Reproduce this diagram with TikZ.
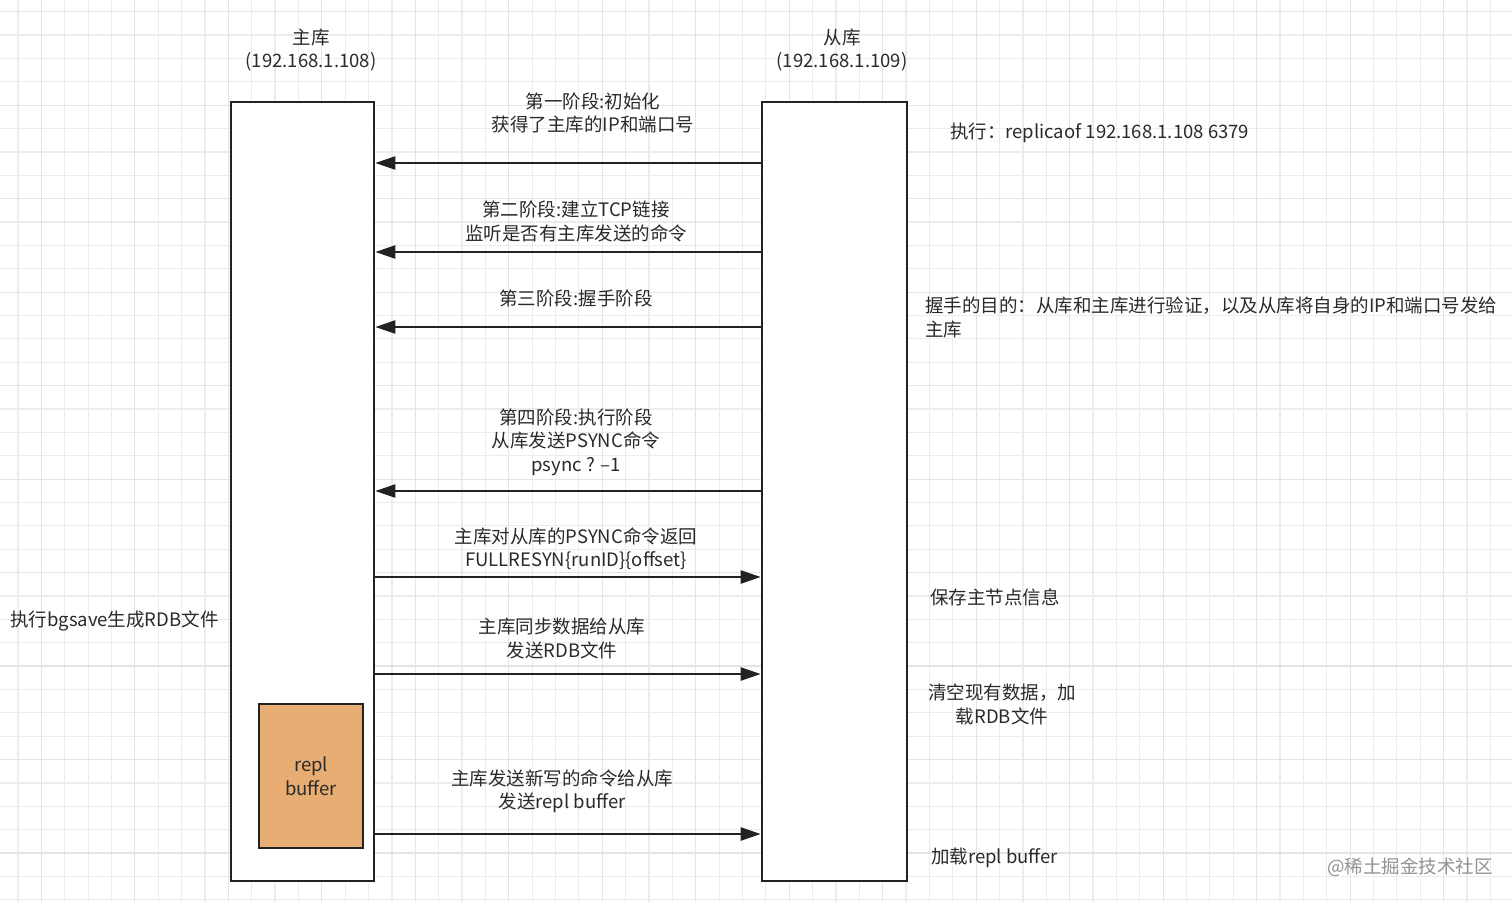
\documentclass[tikz,border=0pt]{standalone}
\usepackage{fontspec}
\setmainfont{Noto Sans CJK SC}
\usetikzlibrary{arrows.meta}
\definecolor{gridc}{HTML}{ECECEC}
\definecolor{gridd}{HTML}{E4E4E4}
\definecolor{txt}{HTML}{2A2A2A}
\definecolor{bufc}{HTML}{E8AD72}
\definecolor{linec}{HTML}{222222}
\tikzset{
  lbl/.style={font=\fontsize{18.5}{23.5}\selectfont, text=txt, align=center, inner sep=0pt},
  lbll/.style={font=\fontsize{18.5}{23.5}\selectfont, text=txt, align=left, inner sep=0pt, anchor=west},
  lane/.style={draw=linec, line width=2.6pt, fill=white, inner sep=0pt},
  msg/.style={draw=linec, line width=2.4pt, -{Triangle[length=20pt,width=13pt]}},
}
\begin{document}
\begin{tikzpicture}[x=1pt,y=-1pt]
\useasboundingbox (0,0) rectangle (1512,902);
\fill[white] (0,0) rectangle (1512,902);
% grid
\foreach \i in {0,...,64} {
  \pgfmathsetmacro{\xx}{18+23.37*\i}
  \draw[gridc, line width=1.2pt] (\xx,0) -- (\xx,902);
}
\foreach \i in {0,...,38} {
  \pgfmathsetmacro{\yy}{11.7+23.37*\i}
  \draw[gridc, line width=1.2pt] (0,\yy) -- (1512,\yy);
}
\foreach \i in {0,...,16} {
  \pgfmathsetmacro{\xx}{41.4+93.48*\i}
  \draw[gridd, line width=1.2pt] (\xx,0) -- (\xx,902);
}
\foreach \i in {0,...,9} {
  \pgfmathsetmacro{\yy}{11.7+93.48*\i}
  \draw[gridd, line width=1.2pt] (0,\yy) -- (1512,\yy);
}
% lanes
\node[lane, minimum width=143pt, minimum height=779pt] (L) at (302.5,491.5) {};
\node[lane, minimum width=145pt, minimum height=779pt] (R) at (834.5,491.5) {};
\node[lane, fill=bufc, minimum width=104pt, minimum height=144pt, line width=2.4pt] (B) at (311,776) {};
\node[lbl] (Bt) at (311,776) {repl\\buffer};
% headers
\node[lbl] (Lh) at (311,50) {主库\\(192.168.1.108)};
\node[lbl] (Rh) at (842,50) {从库\\(192.168.1.109)};
% connector endpoints
\coordinate (r1) at (R.west |- 0,163);  \coordinate (l1) at (L.east |- 0,163);
\coordinate (r2) at (R.west |- 0,252);  \coordinate (l2) at (L.east |- 0,252);
\coordinate (r3) at (R.west |- 0,327);  \coordinate (l3) at (L.east |- 0,327);
\coordinate (r4) at (R.west |- 0,491);  \coordinate (l4) at (L.east |- 0,491);
\coordinate (r5) at (R.west |- 0,577);  \coordinate (l5) at (L.east |- 0,577);
\coordinate (r6) at (R.west |- 0,674);  \coordinate (l6) at (L.east |- 0,674);
\coordinate (r7) at (R.west |- 0,834);  \coordinate (l7) at (L.east |- 0,834);
\draw[msg] (r1) -- (l1);
\draw[msg] (r2) -- (l2);
\draw[msg] (r3) -- (l3);
\draw[msg] (r4) -- (l4);
\draw[msg] (l5) -- (r5);
\draw[msg] (l6) -- (r6);
\draw[msg] (l7) -- (r7);
% message labels
\node[lbl] (m1) at (593,113) {第一阶段:初始化\\获得了主库的IP和端口号};
\node[lbl] (m2) at (576,221.5) {第二阶段:建立TCP链接\\监听是否有主库发送的命令};
\node[lbl] (m3) at (576,298) {第三阶段:握手阶段};
\node[lbl] (m4) at (576,442) {第四阶段:执行阶段\\从库发送PSYNC命令\\psync ? –1};
\node[lbl] (m5) at (576,548.5) {主库对从库的PSYNC命令返回\\FULLRESYN\{runID\}\{offset\}};
\node[lbl] (m6) at (562,638.5) {主库同步数据给从库\\发送RDB文件};
\node[lbl] (m7) at (562,791) {主库发送新写的命令给从库\\发送repl buffer};
% side notes
\node[lbll] (n1) at (950,133) {执行：replicaof 192.168.1.108 6379};
\node[lbll] (n2) at (925,317.5) {握手的目的：从库和主库进行验证，以及从库将自身的IP和端口号发给\\主库};
\node[lbll] (n3) at (930,597) {保存主节点信息};
\node[lbll] (n4) at (10,621) {执行bgsave生成RDB文件};
\node[lbl] (n5) at (1002,704.5) {清空现有数据，加\\载RDB文件};
\node[lbll] (n6) at (931,858) {加载repl buffer};
\node[lbll, text=gray!85] (wm) at (1327,867) {@稀土掘金技术社区};
\end{tikzpicture}
\end{document}
